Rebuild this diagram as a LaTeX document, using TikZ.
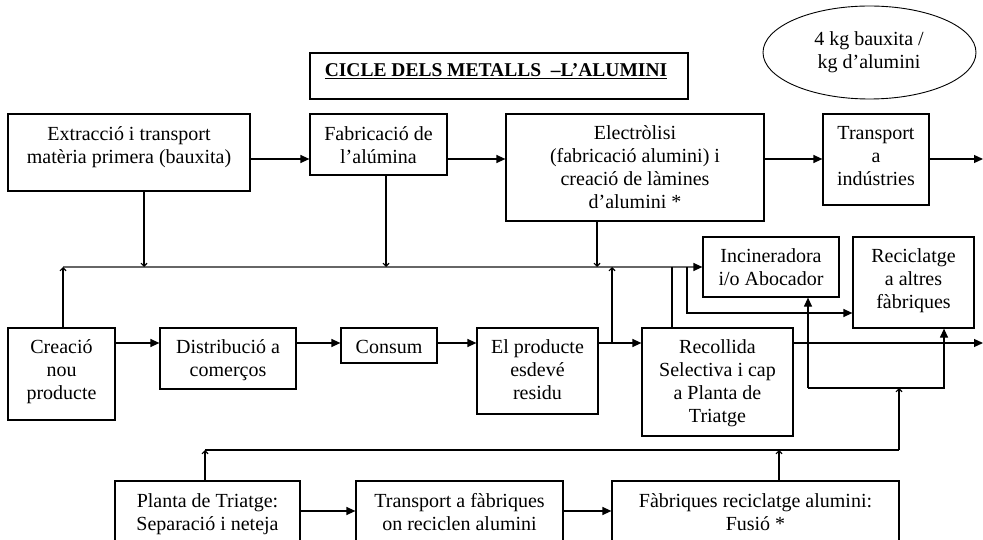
\documentclass[tikz,border=0pt]{standalone}
\usepackage{fontspec}
\setmainfont{Liberation Serif}
\usetikzlibrary{arrows.meta,fit,shapes.geometric}
\newcommand\topst{\rule{0pt}{15pt}}
\begin{document}
\begin{tikzpicture}[x=1pt,y=-1pt,
  box/.style={draw, line width=1.2pt, inner sep=0pt},
  txt/.style={font=\fontsize{20}{23}\selectfont, align=center, inner sep=0pt, anchor=north},
  ln/.style={line width=1.2pt},
  farr/.style={line width=1.2pt, -{Triangle[length=9pt,width=8pt]}},
  sarr/.style={line width=1.1pt, -{Straight Barb[length=3pt,width=6pt]}},
  busln/.style={line width=1.8pt, black!60}]
\useasboundingbox (0,0) rectangle (983,540);
\clip (0,0) rectangle (983,540);

% title and ellipse
\node[box, fit={(310,53) (688,99)}] (title) {};
\node[anchor=base, inner sep=0pt, font=\fontsize{19.5}{23}\selectfont\bfseries] (titlet) at (496,77) {\underline{CICLE DELS METALLS\ \ –L’ALUMINI}};
\node[draw, ellipse, line width=0.9pt, minimum width=213pt, minimum height=93pt, inner sep=0pt] (ell) at (869.5,52.5) {};
\node[txt] (ellt) at (869,30) {\topst 4 kg bauxita /\\kg d’alumini};

% boxes
\node[box, fit={(8,114) (250,191)}] (extr) {};
\node[box, fit={(310,114) (447,175)}] (fab) {};
\node[box, fit={(506,114) (764,221)}] (elec) {};
\node[box, fit={(823,114) (929,205)}] (trans) {};
\node[box, fit={(703,237) (839,297)}] (inc) {};
\node[box, fit={(853,237) (974,328)}] (recic) {};
\node[box, fit={(8,328) (115,420)}] (crea) {};
\node[box, fit={(160,328) (296,389)}] (dist) {};
\node[box, fit={(341,328) (437,363)}] (cons) {};
\node[box, fit={(477,328) (598,414)}] (prod) {};
\node[box, fit={(642,328) (793,436)}] (recol) {};
\node[box, fit={(115,481) (300,570)}] (plan) {};
\node[box, fit={(356,481) (563,570)}] (tfab) {};
\node[box, fit={(612,481) (899,570)}] (frec) {};

% texts
\node[txt] (extrt) at ([yshift=-11.5pt]extr.north) {\topst Extracció i transport\\matèria primera (bauxita)};
\node[txt] (fabt) at ([yshift=-11.5pt]fab.north) {\topst Fabricació de\\l’alúmina};
\node[txt] (elect) at ([yshift=-10.5pt]elec.north) {\topst Electròlisi\\(fabricació alumini) i\\creació de làmines\\d’alumini *};
\node[txt] (transt) at ([yshift=-10.5pt]trans.north) {\topst Transport\\a\\indústries};
\node[txt] (inct) at ([yshift=-11pt]inc.north) {\topst Incineradora\\i/o Abocador};
\node[txt] (recict) at ([yshift=-11pt]recic.north) {\topst Reciclatge\\a altres\\fàbriques};
\node[txt] (creat) at ([yshift=-11pt]crea.north) {\topst Creació\\nou\\producte};
\node[txt] (distt) at ([yshift=-11pt]dist.north) {\topst Distribució a\\comerços};
\node[txt] (const) at ([yshift=-11pt]cons.north) {\topst Consum};
\node[txt] (prodt) at ([yshift=-11pt]prod.north) {\topst El producte\\esdevé\\residu};
\node[txt] (recolt) at ([yshift=-11pt]recol.north) {\topst Recollida\\Selectiva i cap\\a Planta de\\Triatge};
\node[txt] (plant) at ([yshift=-12pt]plan.north) {\topst Planta de Triatge:\\Separació i neteja};
\node[txt] (tfabt) at ([yshift=-12pt]tfab.north) {\topst Transport a fàbriques\\on reciclen alumini};
\node[txt] (frect) at ([yshift=-12pt]frec.north) {\topst Fàbriques reciclatge alumini:\\Fusió *};

% top row arrows
\coordinate (outA) at (983,159);
\draw[farr] (extr.east |- outA) -- (fab.west |- outA);
\draw[farr] (fab.east |- outA) -- (elec.west |- outA);
\draw[farr] (elec.east |- outA) -- (trans.west |- outA);
\draw[farr] (trans.east |- outA) -- (outA);

% bus
\coordinate (busL) at (63,267);
\coordinate (b1) at (144,267);
\coordinate (b2) at (386,267);
\coordinate (b3) at (597,267);
\coordinate (b4) at (612,267);
\coordinate (b5) at (672,267);
\coordinate (b6) at (687,267);
\coordinate (busE) at (694,267);
\draw[busln] (busL) -- (busE);
\draw[farr] (busE) -- (inc.west |- busE);
\draw[sarr] (crea.north -| busL) -- (busL);
\draw[sarr] (extr.south -| b1) -- (b1);
\draw[sarr] (fab.south -| b2) -- (b2);
\draw[sarr] (elec.south -| b3) -- (b3);

% middle row
\coordinate (outB) at (983,343);
\coordinate (j612) at (612,343);
\draw[farr] (crea.east |- outB) -- (dist.west |- outB);
\draw[farr] (dist.east |- outB) -- (cons.west |- outB);
\draw[farr] (cons.east |- outB) -- (prod.west |- outB);
\draw[farr] (prod.east |- outB) -- (recol.west |- outB);
\draw[sarr] (j612) -- (b4);
\draw[ln] (b5) -- (recol.north -| b5);
\coordinate (k313) at (0,313);
\draw[farr] (b6) |- (recic.west |- k313);
\draw[farr] (recol.east |- outB) -- (outB);

% lower connections
\coordinate (c1) at (808,388);
\coordinate (c2) at (944,388);
\coordinate (c3) at (899,388);
\draw[farr] (c1) -- (inc.south -| c1);
\draw[farr] (c1) -- (c2) -- (recic.south -| c2);
\coordinate (d1) at (205,450);
\coordinate (d2) at (779,450);
\coordinate (d3) at (899,450);
\draw[ln] (d1) -- (d3);
\draw[sarr] (d3) -- (c3);
\draw[sarr] (plan.north -| d1) -- (d1);
\draw[sarr] (frec.north -| d2) -- (d2);

% bottom row
\coordinate (r3) at (0,511);
\draw[farr] (plan.east |- r3) -- (tfab.west |- r3);
\draw[farr] (tfab.east |- r3) -- (frec.west |- r3);
\end{tikzpicture}
\end{document}
